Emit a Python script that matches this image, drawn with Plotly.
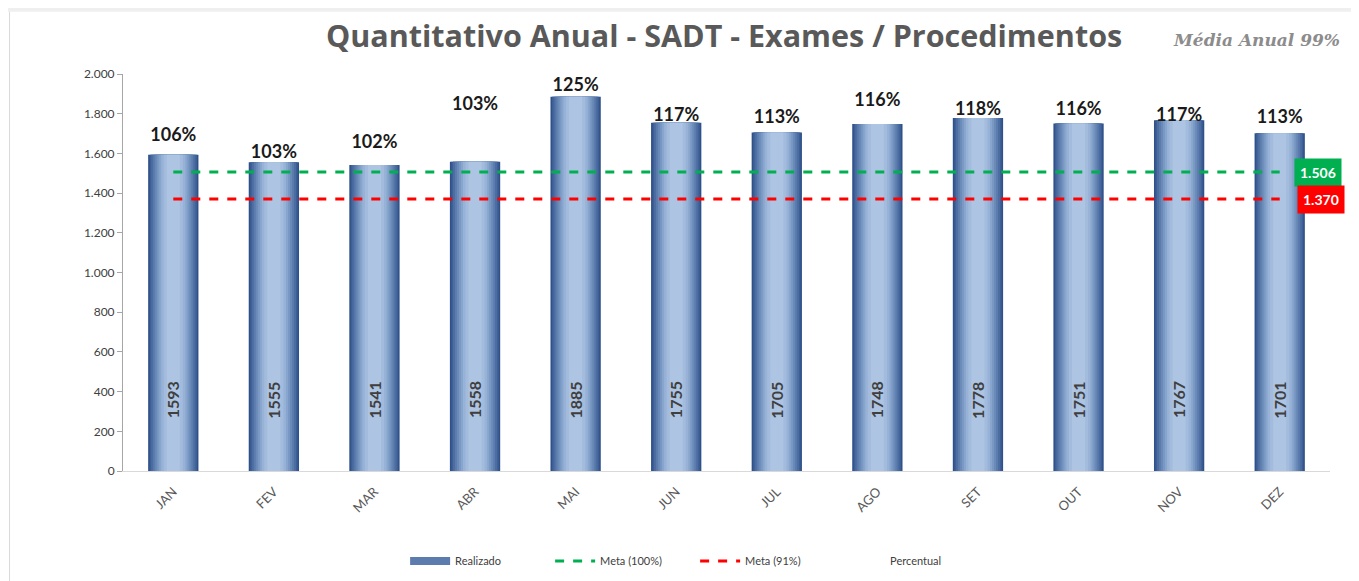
import plotly.graph_objects as go

months = ["JAN", "FEV", "MAR", "ABR", "MAI", "JUN", "JUL", "AGO", "SET", "OUT", "NOV", "DEZ"]
realizado = [1593, 1555, 1541, 1558, 1885, 1755, 1705, 1748, 1778, 1751, 1767, 1701]
percentual = ["106%", "103%", "102%", "103%", "125%", "117%", "113%", "116%", "118%", "116%", "117%", "113%"]
pct_label_y = [1683, 1602, 1652, 1839, 1935, 1788, 1778, 1864, 1814, 1814, 1788, 1778]
meta100 = 1506
meta91 = 1370
title = "Quantitativo Anual - SADT - Exames / Procedimentos"
media_txt = "Média Anual 99%"

fig = go.Figure()

# simulated horizontal gradient: overlayed bars of decreasing width
grad = [
    (0.50, "#2F5189"),
    (0.47, "#3D5F95"),
    (0.44, "#4C6DA1"),
    (0.40, "#5B7CAD"),
    (0.36, "#6A8AB8"),
    (0.32, "#7998C3"),
    (0.28, "#88A6CD"),
    (0.24, "#97B2D6"),
    (0.19, "#A3BCDD"),
    (0.13, "#ADC4E2"),
]
for i, (w, c) in enumerate(grad):
    fig.add_trace(go.Bar(
        x=months, y=realizado, width=w,
        marker=dict(color=c, line=dict(width=0)),
        name="Realizado", showlegend=False, hoverinfo="skip" if i else None,
    ))

# legend proxy for bars
fig.add_trace(go.Scatter(x=[None], y=[None], mode="lines", name="Realizado",
                         line=dict(color="#5B7CAD", width=8)))
fig.add_trace(go.Scatter(
    x=months, y=[meta100] * len(months), mode="lines",
    line=dict(color="#00B050", width=3, dash="dash"), name="Meta (100%)"))
fig.add_trace(go.Scatter(
    x=months, y=[meta91] * len(months), mode="lines",
    line=dict(color="#FF0000", width=3, dash="dash"), name="Meta (91%)"))
fig.add_trace(go.Scatter(
    x=months, y=pct_label_y, mode="text", text=percentual,
    textfont=dict(family="Lato", size=18, color="#1A1A1A", weight="bold"),
    textposition="middle center", name="Percentual", showlegend=False))
fig.add_trace(go.Scatter(x=[None], y=[None], mode="lines", name="Percentual",
                         line=dict(color="rgba(0,0,0,0)", width=1)))

ann = []
for m, v in zip(months, realizado):
    ann.append(dict(x=m, y=358, xref="x", yref="y", text=f"<b>{v}</b>", textangle=-90,
                    showarrow=False, font=dict(family="Lato", size=16, color="#3F3F3F")))
ann.append(dict(x=months[-1], y=meta100, xref="x", yref="y", xshift=38, text="<b>1.506</b>",
                showarrow=False, bgcolor="#00B050", font=dict(family="Lato", size=14, color="white"),
                borderpad=5))
ann.append(dict(x=months[-1], y=meta91, xref="x", yref="y", xshift=41, text="<b>1.370</b>",
                showarrow=False, bgcolor="#FF0000", font=dict(family="Lato", size=14, color="white"),
                borderpad=5))
ann.append(dict(x=0.498, y=1.098, xref="paper", yref="paper", yanchor="middle", text=f"<b>{title}</b>",
                showarrow=False, font=dict(family="Open Sans", size=30.5, color="#595959")))
ann.append(dict(x=1.010, y=1.086, xref="paper", yref="paper", xanchor="right", yanchor="middle",
                text=f"<b><i>{media_txt}</i></b>",
                showarrow=False, font=dict(family="DejaVu Serif", size=17, color="#8C8C8C")))

fig.update_layout(
    width=1351, height=573,
    margin=dict(l=115, r=29, t=66, b=110, autoexpand=False),
    paper_bgcolor="white", plot_bgcolor="white",
    barmode="overlay",
    separators=",.",
    annotations=ann,
    showlegend=True,
    legend=dict(orientation="h", x=0.474, xanchor="center", y=-0.227, yanchor="middle",
                font=dict(family="Lato", size=11, color="#404040"),
                itemwidth=40, entrywidth=90, traceorder="normal"),
    xaxis=dict(tickangle=-45, tickfont=dict(family="Lato", size=13, color="#595959"),
               showline=True, linecolor="#D9D9D9", linewidth=1, showgrid=False,
               range=[-0.5, 11.5], ticks="", ticklabelstandoff=7),
    yaxis=dict(range=[0, 2000], dtick=200, tickformat=",d", showgrid=False,
               showline=True, linecolor="#A6A6A6", linewidth=1,
               ticks="outside", ticklen=5, tickcolor="#A6A6A6",
               tickfont=dict(family="Lato", size=12, color="#404040"), zeroline=False),
    shapes=[dict(type="rect", xref="paper", yref="paper", x0=-0.12, x1=1.03, y0=1.157, y1=1.2,
                 fillcolor="#EFEFEF", line=dict(width=0), layer="below"),
            dict(type="line", xref="paper", yref="paper", x0=-0.094, x1=-0.094, y0=-0.3, y1=1.157,
                 line=dict(color="#D9D9D9", width=1))],
)

fig.write_html("out.html")
